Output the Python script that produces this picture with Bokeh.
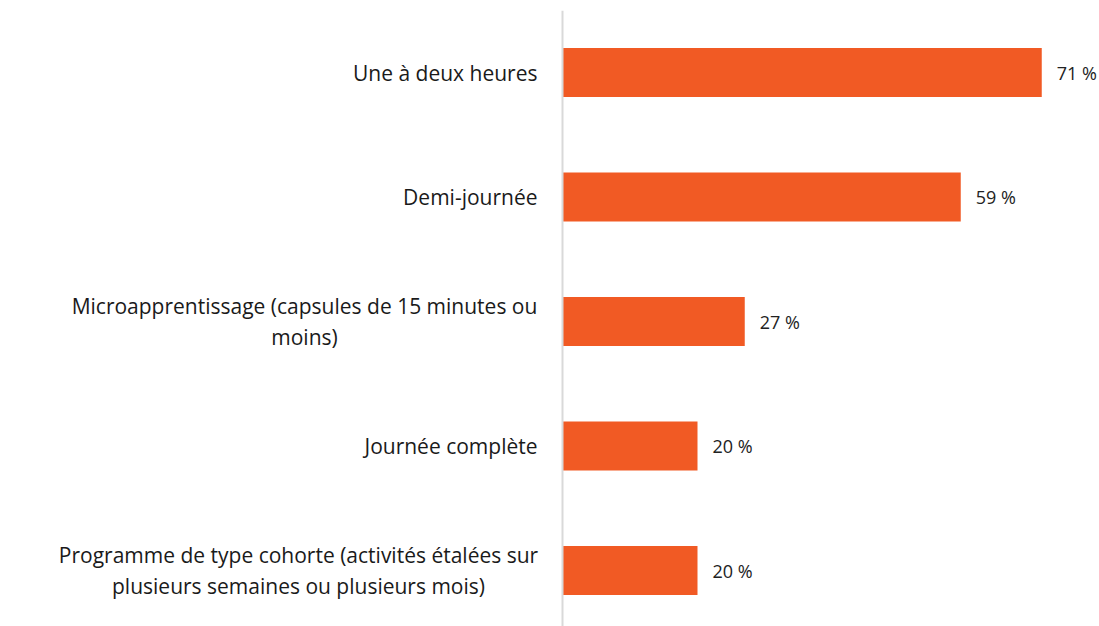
from bokeh.plotting import figure
from bokeh.models import Range1d, Span, ColumnDataSource
from bokeh.core.properties import value
from bokeh.embed import file_html
from bokeh.resources import INLINE

categories = [
    "Une à deux heures",
    "Demi-journée",
    "Microapprentissage (capsules de 15 minutes ou\nmoins)",
    "Journée complète",
    "Programme de type cohorte (activités étalées sur\nplusieurs semaines ou plusieurs mois)",
]
values = [71, 59, 27, 20, 20]
value_labels = ["71 %", "59 %", "27 %", "20 %", "20 %"]

FONT = "Open Sans"
FS = "21px"
n = len(categories)
ypos = [n - 1 - i for i in range(n)]
# centered multi-line labels: shift by half the widest line
half_w = [0, 0, 233, 0, 239]
is_multi = ["\n" in c for c in categories]

src = ColumnDataSource(dict(
    y=ypos, v=values, vl=value_labels, cat=categories,
    zero=[0] * n,
    xoff=[-25 - h for h in half_w],
    align=["center" if m else "right" for m in is_multi],
))

px_per = 6.75
W, H = 1099, 626
left_px = 562
p = figure(width=W, height=H, output_backend="svg", toolbar_location=None,
           x_range=Range1d(-left_px / px_per, (W - left_px) / px_per),
           y_range=Range1d(-56 / 124.5, 4 + 62 / 124.5),
           min_border=0, min_border_top=10)
p.axis.visible = False
p.grid.visible = False
p.outline_line_color = None
p.background_fill_color = "white"

p.hbar(y="y", left=0, right="v", height=0.394, source=src,
       fill_color="#F15A24", line_color=None)
p.add_layout(Span(location=0, dimension="height", line_color="#d9d9d9", line_width=2))

p.text(x="zero", y="y", text="cat", source=src, x_offset="xoff",
       text_align="align", text_baseline="middle",
       text_font=value(FONT), text_font_size=FS, text_color="#1a1a1a",
       text_line_height=1.12)
p.text(x="v", y="y", text="vl", source=src, x_offset=15,
       text_align="left", text_baseline="middle",
       text_font=value(FONT), text_font_size="18px", text_color="#222222")

open("out.html", "w").write(file_html(p, INLINE))
